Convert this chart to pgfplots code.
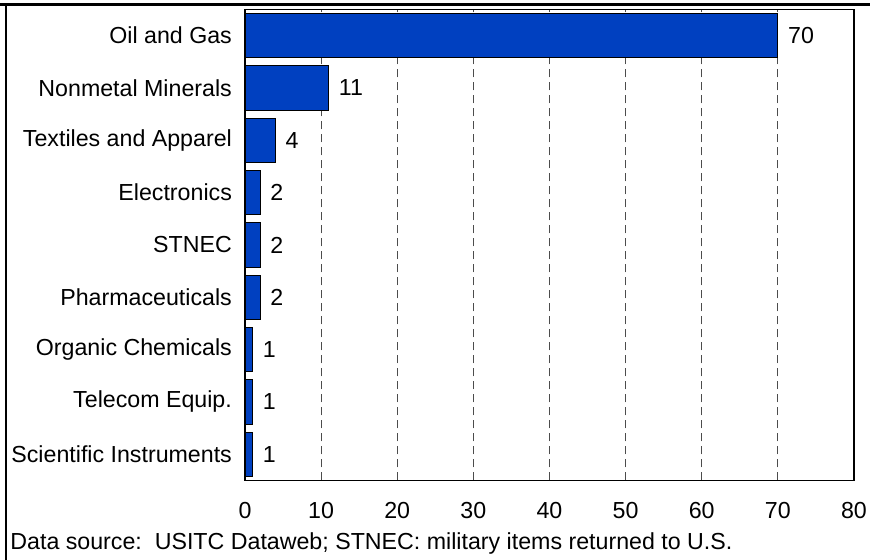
\documentclass[border=0pt]{standalone}
\usepackage{pgfplots}
\pgfplotsset{compat=1.18}
\usepackage{fontspec}
\setmainfont{Liberation Sans}
\definecolor{barblue}{HTML}{0040C0}
\begin{document}
\fontsize{11.6}{14}\selectfont
\begin{tikzpicture}[x=1pt,y=1pt]
\useasboundingbox (0,0) rectangle (435,280);
\begin{axis}[
  at={(122.5pt,39.75pt)}, anchor=south west,
  scale only axis, width=304.5pt, height=235.5pt,
  xmin=0, xmax=80, ymin=-0.5, ymax=8.5,
  xbar, bar width=0.85, bar shift=0pt,
  xtick={0,10,...,80},
  ytick={0,...,8},
  yticklabels={Scientific Instruments,Telecom Equip.,Organic Chemicals,Pharmaceuticals,STNEC,Electronics,Textiles and Apparel,Nonmetal Minerals,Oil and Gas},
  major tick length=0pt,
  xmajorgrids, major grid style={black!70, dash pattern=on 4pt off 2.5pt, line width=0.5pt},
  axis line style={black, line width=0.6pt},
  /pgf/number format/assume math mode=true,
  tick label style={font=\fontsize{11.6}{14}\selectfont},
  xticklabel style={yshift=-7pt},
  yticklabel style={xshift=-2.5pt},
  nodes near coords,
  every node near coord/.append style={font=\fontsize{11.6}{14}\selectfont, anchor=west, xshift=1pt},
]
\addplot[fill=barblue, draw=black, line width=0.5pt] coordinates {
 (1,0) (1,1) (1,2) (2,3) (2,4) (2,5) (4,6) (11,7) (70,8)
};
\end{axis}
\draw[line width=1.5pt] (0,277.5) -- (435,277.5);
\draw[line width=1.1pt] (3,0) -- (3,278);
\node[anchor=base west, inner sep=0pt, font=\fontsize{11.6}{14}\selectfont] at (5,5) {Data source:\ \ USITC Dataweb; STNEC: military items returned to U.S.};
\end{tikzpicture}
\end{document}
